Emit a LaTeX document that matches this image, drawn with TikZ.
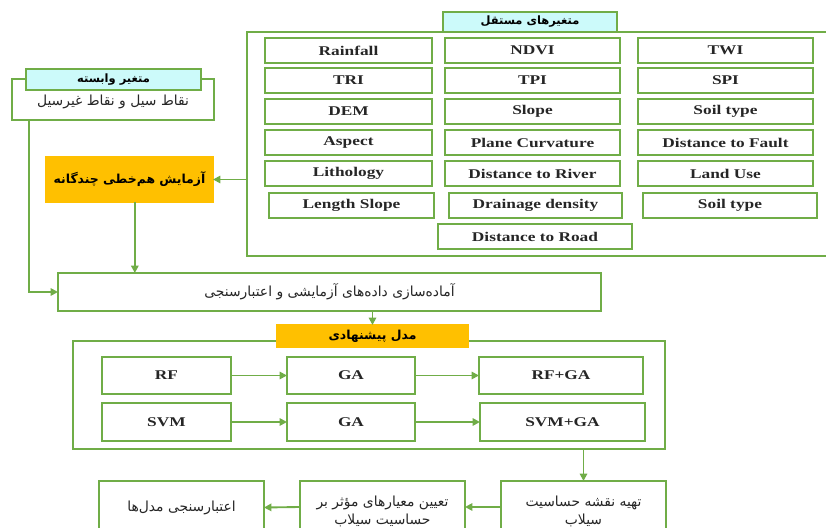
\documentclass[tikz,border=0pt]{standalone}
\usepackage{fontspec}
\setmainfont{Liberation Serif}[FakeStretch=1.3]
\newfontfamily\fa[Script=Arabic]{DejaVu Sans}
\TeXXeTstate=1
\usetikzlibrary{arrows.meta}
\definecolor{gr}{HTML}{70AD47}
\definecolor{cy}{HTML}{CCFAFA}
\definecolor{og}{HTML}{FFC000}
\definecolor{tx}{HTML}{262626}
\begin{document}
\begin{tikzpicture}[x=0.75pt,y=-0.75pt,
  box/.style 2 args={draw=gr, line width=1.5pt, fill=white, text=tx,
    minimum width=#1*0.75pt, minimum height=#2*0.75pt, inner sep=0pt, outer sep=0pt, anchor=center},
  cell/.style 2 args={box={#1}{#2}, line width=1.3pt, font=\bfseries\fontsize{10}{12}\selectfont},
  hdr/.style 2 args={box={#1}{#2}, fill=cy, text=black, font=\fa\bfseries\fontsize{8.6}{10}\selectfont},
  obox/.style 2 args={box={#1}{#2}, draw=og, fill=og, text=black, font=\fa\bfseries\fontsize{9.3}{11}\selectfont},
  fa/.style={font=\fa\fontsize{10.4}{13.5}\selectfont, align=center, text=tx},
  arr/.style={draw=gr, line width=1.4pt, -{Triangle[length=5.5pt,width=5.5pt]}}
]
\useasboundingbox (0,0) rectangle (826,528);
\clip (0,0) rectangle (826,528);

% independent variables
\node[box={590}{224}] (ind) at (542,144) {};
\node[hdr={174}{20}] (indh) at (530,22) {\beginR متغیرهای مستقل\endR};

\node[cell={167}{25}] (c11) at (348.5,50.5) {Rainfall};
\node[cell={175}{25}] (c12) at (532.5,50.5) {NDVI};
\node[cell={175}{25}] (c13) at (725.5,50.5) {TWI};
\node[cell={167}{25}] (c21) at (348.5,80.5) {TRI};
\node[cell={175}{25}] (c22) at (532.5,80.5) {TPI};
\node[cell={175}{25}] (c23) at (725.5,80.5) {SPI};
\node[cell={167}{25}] (c31) at (348.5,111.5) {DEM};
\node[cell={175}{25}] (c32) at (532.5,111.5) {Slope};
\node[cell={175}{25}] (c33) at (725.5,111.5) {Soil type};
\node[cell={167}{25}] (c41) at (348.5,142.5) {Aspect};
\node[cell={175}{25}] (c42) at (532.5,142.5) {Plane Curvature};
\node[cell={175}{25}] (c43) at (725.5,142.5) {Distance to Fault};
\node[cell={167}{25}] (c51) at (348.5,173.5) {Lithology};
\node[cell={175}{25}] (c52) at (532.5,173.5) {Distance to River};
\node[cell={175}{25}] (c53) at (725.5,173.5) {Land Use};
\node[cell={165}{25}] (c61) at (351.5,205.5) {Length Slope};
\node[cell={173}{25}] (c62) at (535.5,205.5) {Drainage density};
\node[cell={174}{25}] (c63) at (730,205.5) {Soil type};
\node[cell={194}{25}] (c72) at (535,236.5) {Distance to Road};

% dependent variable
\node[box={202}{41}] (dep) at (113,99.5) {};
\node[hdr={175}{21}] (deph) at (113.5,79.5) {\beginR متغیر وابسته\endR};
\node[fa] (deptxt) at (113,102) {\beginR نقاط سیل و نقاط غیرسیل\endR};

% multicollinearity
\node[obox={167}{45}] (mc) at (129.5,179.5) {\beginR آزمایش هم^^^^200cخطی چندگانه\endR};
\draw[arr] (ind.west |- mc.east) -- (mc.east);

% preparation
\node[box={543}{38}, fa] (prep) at (329.5,292) {\beginR آماده^^^^200cسازی داده^^^^200cهای آزمایشی و اعتبارسنجی\endR};
\draw[arr] ([xshift=4pt]mc.south) -- ([xshift=4pt]mc.south |- prep.north);
\draw[arr] ([xshift=12.75pt]dep.south west) |- (prep.west);

% model
\node[box={592}{108}] (model) at (369,395) {};
\node[obox={191}{22}] (mh) at (372.5,336) {\beginR مدل پیشنهادی\endR};
\draw[arr] (prep.south -| mh.north) -- (mh.north);

\node[cell={129}{37}] (rf) at (166.5,375.5) {RF};
\node[cell={128}{37}] (ga1) at (351,375.5) {GA};
\node[cell={164}{37}] (rfga) at (561,375.5) {RF+GA};
\node[cell={129}{38}] (svm) at (166.5,422) {SVM};
\node[cell={128}{38}] (ga2) at (351,422) {GA};
\node[cell={165}{38}] (svmga) at (562.5,422) {SVM+GA};
\draw[arr] (rf) -- (ga1);
\draw[arr] (ga1) -- (rfga);
\draw[arr] (svm) -- (ga2);
\draw[arr] (ga2) -- (svmga);

% outputs
\node[box={165}{60}, fa] (tah) at (583.5,511) {\beginR تهیه نقشه حساسیت\endR\\\beginR سیلاب\endR};
\node[box={165}{60}, fa] (taiin) at (382.5,511) {\beginR تعیین معیارهای مؤثر بر\endR\\\beginR حساسیت سیلاب\endR};
\node[box={165}{53}, fa] (eteb) at (181.5,507.5) {\beginR اعتبارسنجی مدل^^^^200cها\endR};
\draw[arr] (model.south -| tah.north) -- (tah.north);
\draw[arr] ([yshift=3pt]tah.west) -- ([yshift=3pt]taiin.east);
\draw[arr] ([yshift=3pt]taiin.west) -- (eteb.east);
\end{tikzpicture}
\end{document}
